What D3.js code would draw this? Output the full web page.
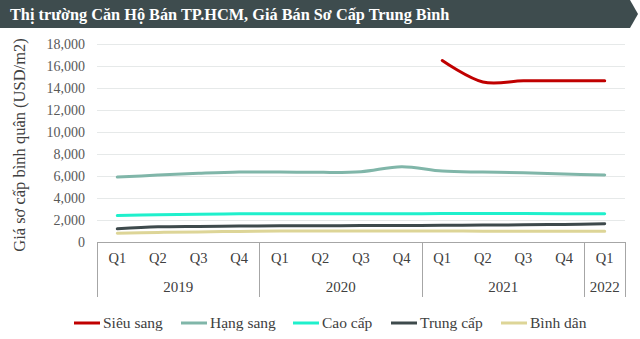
<!DOCTYPE html>
<html>
<head>
<meta charset="utf-8">
<script src="https://cdn.jsdelivr.net/npm/d3@7"></script>
<style>
  html, body { margin: 0; padding: 0; background: #fff; }
  svg { display: block; }
</style>
</head>
<body>
<svg id="chart" width="640" height="339"></svg>
<script>
// Average primary selling price of HCMC apartments by segment (USD/m2)
const quarters = ["Q1","Q2","Q3","Q4","Q1","Q2","Q3","Q4","Q1","Q2","Q3","Q4","Q1"];
const years = [
  { label: "2019", count: 4 },
  { label: "2020", count: 4 },
  { label: "2021", count: 4 },
  { label: "2022", count: 1 }
];
const yTicks = [0, 2000, 4000, 6000, 8000, 10000, 12000, 14000, 16000, 18000];

const sieuSang  = [null, null, null, null, null, null, null, null, 16500, 14550, 14650, 14650, 14650];
const hangSang  = [5900, 6080, 6240, 6360, 6360, 6330, 6390, 6850, 6450, 6360, 6300, 6180, 6100];
const caoCap    = [2400, 2480, 2530, 2560, 2570, 2570, 2560, 2560, 2580, 2580, 2580, 2570, 2570];
const trungCap  = [1200, 1380, 1420, 1450, 1470, 1480, 1490, 1500, 1520, 1540, 1560, 1600, 1650];
const binhDan   = [800, 870, 920, 960, 990, 1000, 1000, 1000, 1000, 980, 970, 970, 970];

const seriesNames = ["Siêu sang", "Hạng sang", "Cao cấp", "Trung cấp", "Bình dân"];
const seriesValues = [sieuSang, hangSang, caoCap, trungCap, binhDan];
const seriesColors = ["#c00000", "#80b6a9", "#1ff0cc", "#3e4a4c", "#ddd597"];

const svg = d3.select("#chart");
const serif = "'Liberation Serif', 'Times New Roman', serif";

// Title banner with arrow tip
svg.append("path")
  .attr("d", "M0,0 H630 L638,14 L630,28 H0 Z")
  .attr("fill", "#3e4c4e");
svg.append("text")
  .attr("x", 10).attr("y", 20)
  .attr("fill", "#ffffff")
  .attr("font-family", serif)
  .attr("font-weight", "bold")
  .attr("font-size", 16.3)
  .text("Thị trường Căn Hộ Bán TP.HCM, Giá Bán Sơ Cấp Trung Bình");

const plotLeft = 97, plotRight = 625, plotTop = 44, plotBottom = 242;

const x = d3.scaleBand().domain(d3.range(quarters.length)).range([plotLeft, plotRight]).padding(0);
const y = d3.scaleLinear().domain([0, 18000]).range([plotBottom, plotTop]);

// Horizontal gridlines
svg.append("g")
  .selectAll("line")
  .data(yTicks.filter(d => d > 0))
  .join("line")
  .attr("x1", plotLeft).attr("x2", plotRight)
  .attr("y1", d => Math.round(y(d)) + 0.5).attr("y2", d => Math.round(y(d)) + 0.5)
  .attr("stroke", "#e6e9e9").attr("stroke-width", 1);

// Y axis labels
const yAxis = d3.axisLeft(y).tickValues(yTicks).tickSize(0).tickPadding(0)
  .tickFormat(d3.format(","));
const yg = svg.append("g").attr("transform", `translate(${plotLeft - 12},0)`).call(yAxis);
yg.select(".domain").remove();
yg.selectAll("text")
  .attr("font-family", serif)
  .attr("font-size", 14)
  .attr("fill", "#595959");

// Y axis title
svg.append("text")
  .attr("transform", `translate(25,${(plotTop + plotBottom) / 2 + 2}) rotate(-90)`)
  .attr("text-anchor", "middle")
  .attr("font-family", serif)
  .attr("font-size", 16.5)
  .attr("fill", "#404040")
  .text("Giá sơ cấp bình quân (USD/m2)");

// Multi-level category axis
const axisColor = "#a6a6a6";
const axisBottom = 297;
svg.append("line")
  .attr("x1", plotLeft).attr("x2", plotRight)
  .attr("y1", plotBottom + 0.5).attr("y2", plotBottom + 0.5)
  .attr("stroke", axisColor).attr("stroke-width", 1);

const xAxis = d3.axisBottom(x).tickSize(0).tickPadding(0).tickFormat(i => quarters[i]);
const xg = svg.append("g").attr("transform", `translate(0,${plotBottom + 21})`).call(xAxis);
xg.select(".domain").remove();
xg.selectAll("text")
  .attr("dy", 0)
  .attr("font-family", serif)
  .attr("font-size", 14.5)
  .attr("fill", "#404040");

let idx = 0;
const yearSpans = years.map(yr => {
  const s = { label: yr.label, start: idx, end: idx + yr.count - 1 };
  idx += yr.count;
  return s;
});
const boundaries = [x(0)].concat(yearSpans.map(s => x(s.end) + x.bandwidth()));
svg.append("g")
  .selectAll("line")
  .data(boundaries)
  .join("line")
  .attr("x1", d => Math.round(d) + 0.5).attr("x2", d => Math.round(d) + 0.5)
  .attr("y1", plotBottom).attr("y2", axisBottom)
  .attr("stroke", axisColor).attr("stroke-width", 1);
svg.append("g")
  .selectAll("text")
  .data(yearSpans)
  .join("text")
  .attr("x", s => (x(s.start) + x(s.end) + x.bandwidth()) / 2)
  .attr("y", plotBottom + 50)
  .attr("text-anchor", "middle")
  .attr("font-family", serif)
  .attr("font-size", 15)
  .attr("fill", "#404040")
  .text(s => s.label);

// Series lines (smoothed)
const line = d3.line()
  .defined(d => d != null)
  .x((d, i) => x(i) + x.bandwidth() / 2)
  .y(d => y(d))
  .curve(d3.curveCatmullRom.alpha(0.5));

const drawOrder = [4, 3, 2, 1, 0];
svg.append("g")
  .selectAll("path")
  .data(drawOrder)
  .join("path")
  .attr("d", k => line(seriesValues[k]))
  .attr("fill", "none")
  .attr("stroke", k => seriesColors[k])
  .attr("stroke-width", 3)
  .attr("stroke-linecap", "round")
  .attr("stroke-linejoin", "round");

// Legend
const legendX = [74, 181, 293, 391, 501];
const lg = svg.append("g")
  .selectAll("g")
  .data(seriesNames)
  .join("g")
  .attr("transform", (d, i) => `translate(${legendX[i]},323)`);
lg.append("line")
  .attr("x1", 0).attr("x2", 26)
  .attr("stroke", (d, i) => seriesColors[i])
  .attr("stroke-width", 3);
lg.append("text")
  .attr("x", 29).attr("y", 5)
  .attr("font-family", serif)
  .attr("font-size", 15.5)
  .attr("fill", "#404040")
  .text(d => d);
</script>
</body>
</html>
